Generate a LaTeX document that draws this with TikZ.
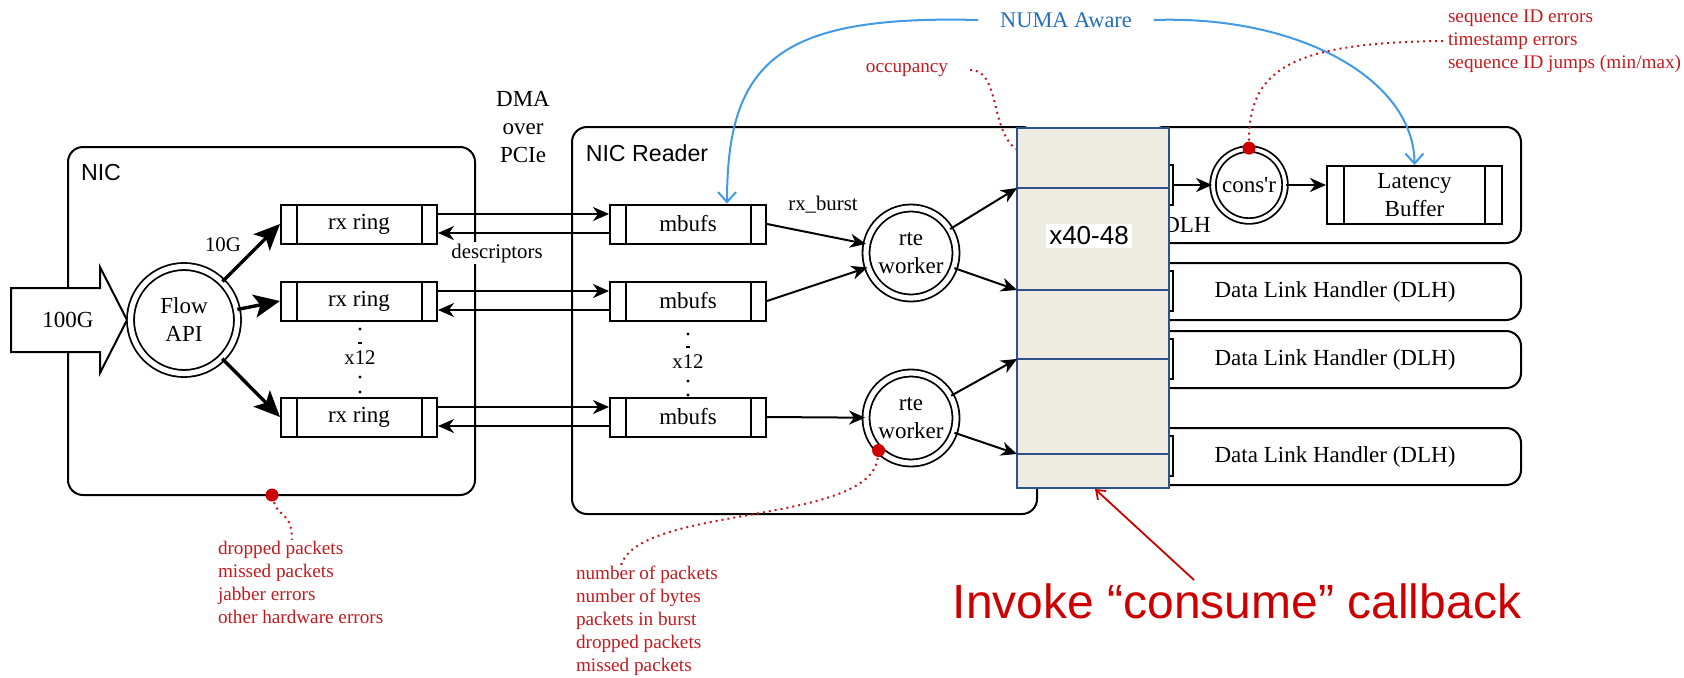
\documentclass[tikz,border=0pt]{standalone}
\usepackage{fontspec}
\setmainfont{Liberation Serif}
\setsansfont{Liberation Sans}
\usepackage{xcolor}
\usepackage{tikz}
\usetikzlibrary{arrows.meta,positioning,calc}
\definecolor{stat}{RGB}{196,26,30}
\definecolor{alert}{RGB}{204,0,0}
\definecolor{numa}{RGB}{66,153,230}
\definecolor{numatxt}{RGB}{36,110,190}
\definecolor{slab}{RGB}{238,236,225}
\definecolor{slabline}{RGB}{44,82,140}

\tikzset{
  panel/.style={draw,rounded corners=7.5pt},
  queue/.style={draw,fill=white,inner sep=0pt,minimum height=19.5pt,minimum width=78pt,align=center,
    path picture={\draw ([xshift=#1]path picture bounding box.south west) -- ([xshift=#1]path picture bounding box.north west)
      ([xshift=-#1]path picture bounding box.south east) -- ([xshift=-#1]path picture bounding box.north east);}},
  queue/.default=7.75pt,
  proc/.style={circle,draw,double,double distance=2.6pt,line width=0.9pt,fill=white,inner sep=0pt,align=center},
  lbl/.style={font=\fontsize{10.4}{12}\selectfont},
  stats/.style={text=stat,align=left,anchor=west,inner sep=0pt,font=\fontsize{9.6}{11.5}\selectfont},
  probe/.style={circle,fill=alert,inner sep=0pt,minimum size=6.5pt},
  feed/.style={line width=1.7pt,-{Stealth[length=13pt,width=11.5pt,inset=3pt]}},
  link/.style={-{Stealth[length=8pt,width=7pt,inset=2.5pt]}},
  numaline/.style={numa,line width=1pt,-{Straight Barb[length=5pt,width=9pt]}},
  tap/.style={stat,dotted,line width=1pt}
}

\begin{document}
\begin{tikzpicture}[x=0.5pt,y=0.5pt,line width=1pt,font=\fontsize{11.5}{14}\selectfont]
  \useasboundingbox (0,0) rectangle (1684,677);

  % containers
  \node[panel,minimum width=203.5pt,minimum height=174pt] (nic) at (271.5,356) {};
  \node[font=\sffamily\fontsize{11.6}{14}\selectfont] (niclbl) at (101,504) {NIC};
  \node[panel,minimum width=232.5pt,minimum height=193.5pt] (reader) at (804.5,356.5) {};
  \node[font=\sffamily\fontsize{11.6}{14}\selectfont] (readerlbl) at (647,524) {NIC Reader};

  \node[panel,minimum width=186pt,minimum height=58pt] (dlh0) at (1335,492) {};
  \node (dlh0lbl) at (1187,452) {DLH};
  \foreach \n/\y in {1/385.5,2/317.5,3/220.5}
    \node[panel,minimum width=186pt,minimum height=28.5pt] (dlh\n) at (1335,\y) {Data Link Handler (DLH)};
  \foreach \n/\y in {0/492,1/386,2/318,3/221}
    \node[draw,fill=white,minimum size=20pt,inner sep=0pt] (slotq\n) at (1153,\y) {};

  % the x40-48 slab
  \node[draw=slabline,fill=slab,minimum width=76pt,minimum height=180pt] (x40) at (1093,369) {};
  \coordinate (slotA) at (1017,489);
  \coordinate (slotB) at (1017,387);
  \coordinate (slotC) at (1017,318);
  \coordinate (slotD) at (1017,223);
  \foreach \s in {slotA,slotB,slotC,slotD}
    \draw[slabline] (\s) -- (\s -| x40.east);
  \node[fill=white,inner sep=1.5pt,font=\sffamily\fontsize{13}{15}\selectfont] (x40lbl) at (1089,441) {x40-48};

  % NIC side
  \draw[fill=white] (11,325) -- (100,325) -- (100,304) -- (127,357) -- (100,410) -- (100,389) -- (11,389) -- cycle;
  \node (in100) at (68,357) {100G};
  \node[proc,minimum size=53.5pt] (flow) at (184,357) {Flow\\API};
  \node[align=center] (dma) at (523,550) {DMA\\over\\PCIe};

  \foreach \n/\y in {1/453,2/376,3/260}{
    \node[queue] (rx\n) at (359,\y) {rx ring};
    \node[queue] (mb\n) at (688,\y) {mbufs};
  }
  \foreach \n in {1,2,3}{
    \draw[feed] (flow) -- (rx\n.west);
    \draw[link] ([yshift=5pt]rx\n.east) -- ([yshift=5pt]mb\n.west);
    \draw[link] ([yshift=-4.5pt]mb\n.west) -- ([yshift=-4.5pt]rx\n.east);
  }
  \node[lbl] (g10) at (223,432) {10G};
  \node[lbl,fill=white,inner sep=1pt] (desc) at (497,424) {descriptors};

  \node[lbl] (nx12) at (360,319) {x12};
  \foreach \y in {348,300,285} \fill (360,\y) circle (1.6);
  \draw (358,334) -- (362,334);
  \node[lbl] (rx12) at (688,315) {x12};
  \foreach \y in {343,296,282} \fill (688,\y) circle (1.6);
  \draw (686,330) -- (690,330);

  % workers and consumer
  \node[proc,minimum size=45pt] (w1) at (911,424) {rte\\worker};
  \node[proc,minimum size=45pt] (w2) at (911,259) {rte\\worker};
  \node[lbl] (burst) at (823,472) {rx\_burst};
  \draw[link] (mb1.east) -- (w1);
  \draw[link] (mb2.east) -- (w1);
  \draw[link] (mb3.east) -- (w2);
  \draw[link] (w1) -- (slotA);
  \draw[link] (w1) -- (slotB);
  \draw[link] (w2) -- (slotC);
  \draw[link] (w2) -- (slotD);

  \node[proc,minimum size=36pt,double distance=1.9pt] (consr) at (1249,492) {cons\textquotesingle r};
  \node[queue=8.5pt,minimum width=87.5pt,minimum height=29pt] (lat) at (1414.5,482) {Latency\\Buffer};
  \draw[link] (slotq0.east) -- (consr);
  \draw[link] (consr) -- (consr -| lat.west);

  % NUMA
  \node[text=numatxt,inner xsep=10.5pt,font=\fontsize{11.2}{13}\selectfont] (numa) at (1066,657) {NUMA Aware};
  \draw[numaline] (numa.west) .. controls (780,662) and (727,617) .. ([xshift=19.5pt]mb1.north);
  \draw[numaline] (numa.east) .. controls (1300,662) and (1414,597) .. (lat.north);

  % statistics
  \node[text=stat,inner xsep=10.5pt,font=\fontsize{9.6}{11}\selectfont] (occ) at (907,607) {occupancy};
  \draw[tap] (occ.east) .. controls (1000,608) and (990,547) .. ([yshift=-11pt]x40.north west);

  \node[stats] (dlhstats) at (1447,636) {sequence ID errors\\timestamp errors\\sequence ID jumps (min/max)};
  \node[probe] (consrdot) at (consr.north) {};
  \draw[tap] (consrdot) .. controls (1249,607) and (1290,635) .. (dlhstats.west);

  \node[stats] (nicstats) at (217,95) {dropped packets\\missed packets\\jabber errors\\other hardware errors};
  \node[probe] (nicdot) at (272,182) {};
  \draw[tap] (nicdot) .. controls (278,160) and (292,165) .. ([xshift=37.5pt]nicstats.north west);

  \node[stats] (rxstats) at (575,56) {number of packets\\number of bytes\\packets in burst\\dropped packets\\missed packets};
  \node[probe] (w2dot) at (w2.225) {};
  \draw[tap] (w2dot) .. controls (870,152) and (640,172) .. ([xshift=23pt]rxstats.north west);

  \node[text=alert,font=\sffamily\fontsize{24}{28}\selectfont] (invoke) at (1237,76) {Invoke “consume” callback};
  \coordinate (callfrom) at (1194,97);
  \draw[alert,line width=0.9pt,-{Straight Barb[length=4pt,width=6pt]}] (callfrom) -- ([xshift=1pt]x40.south);
\end{tikzpicture}
\end{document}
